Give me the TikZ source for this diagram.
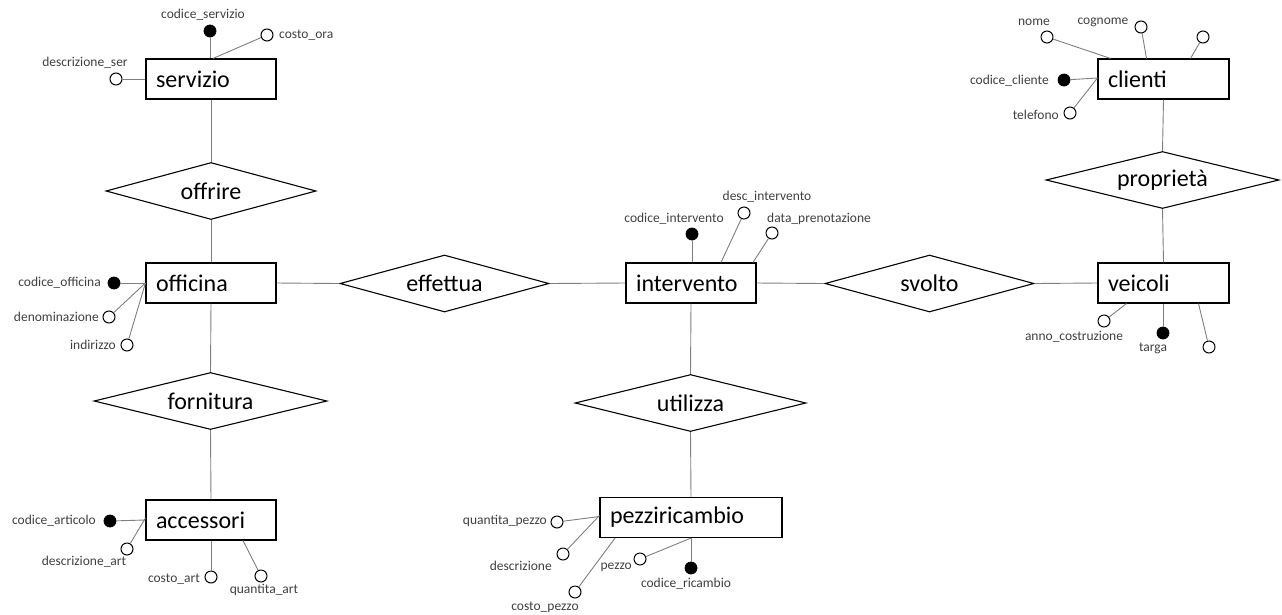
\documentclass[tikz,border=0pt]{standalone}
\usepackage{fontspec}
\setmainfont{Carlito}
\usetikzlibrary{shapes.geometric,calc}
\definecolor{lbl}{HTML}{404040}
\definecolor{lnk}{HTML}{7F7F7F}
\tikzset{
  entity/.style={draw=black, line width=1.1pt, rectangle, minimum width=#1, minimum height=40, inner xsep=10, inner ysep=0,
    text width=#1-20, align=left, font=\fontsize{24}{28}\selectfont, fill=white},
  relation/.style={draw=black, line width=1.1pt, diamond, shape aspect=4, inner sep=0, minimum width=#1, minimum height=57,
    font=\fontsize{24}{28}\selectfont, fill=white},
  keyattr/.style={circle, draw=black, fill=black, line width=0.8pt, minimum size=12, inner sep=0},
  attr/.style={circle, draw=black, fill=white, line width=1pt, minimum size=12, inner sep=0},
  lab/.style={font=\fontsize{13.5}{15}\selectfont, text=lbl, inner sep=0},
  link/.style={draw=lnk, line width=0.9pt},
}
\begin{document}
\begin{tikzpicture}[x=1pt,y=-1pt]
\useasboundingbox (0,0) rectangle (1282,614);

% entities
\node[entity=130] (servizio) at (211,79) {servizio};
\node[entity=130] (officina) at (211,283) {officina};
\node[entity=130] (accessori) at (211,520) {accessori};
\node[entity=130] (intervento) at (691,283) {intervento};
\node[entity=182] (pezzi) at (691,517.5) {pezziricambio};
\node[entity=131] (veicoli) at (1163.5,283) {veicoli};
\node[entity=131] (clienti) at (1163.5,79) {clienti};

% relations
\node[relation=210] (offrire) at (211,191) {offrire};
\node[relation=209] (effettua) at (444.5,283.5) {effettua};
\node[relation=209] (svolto) at (929.5,283.5) {svolto};
\node[relation=233] (proprieta) at (1162.5,180) {proprietà};
\node[relation=233] (fornitura) at (210.5,401) {fornitura};
\node[relation=231] (utilizza) at (690.5,403) {utilizza};

% entity-relation links
\draw[link] (servizio.south) -- (offrire.north);
\draw[link] (offrire.south) -- (officina.north);
\draw[link] (officina.south) -- (fornitura.north);
\draw[link] (fornitura.south) -- (accessori.north);
\draw[link] (officina.east) -- (effettua.west);
\draw[link] (effettua.east) -- (intervento.west);
\draw[link] (intervento.east) -- (svolto.west);
\draw[link] (svolto.east) -- (veicoli.west);
\draw[link] (veicoli.north) -- (proprieta.south);
\draw[link] (proprieta.north) -- (clienti.south);
\draw[link] (intervento.south) -- (utilizza.north);
\draw[link] (utilizza.south) -- (pezzi.north);

% servizio attributes
\node[keyattr] (cs) at (210,31) {};
\node[attr] (co) at (267,35) {};
\node[attr] (ds) at (116,79) {};
\draw[link] (cs) -- (servizio.north -| cs);
\draw[link] (co) -- ([xshift=2]servizio.north);
\draw[link] (ds) -- (servizio.west);
\node[lab] (lcs) at (203,15) {codice\_servizio};
\node[lab, anchor=west] (lco) at (279,35) {costo\_ora};
\node[lab] (lds) at (85,63) {descrizione\_ser};

% officina attributes
\node[keyattr] (cof) at (114,283) {};
\node[attr] (den) at (109,317) {};
\node[attr] (ind) at (127,345) {};
\draw[link] (cof) -- (officina.west);
\draw[link] (den) -- (officina.west);
\draw[link] (ind) -- (officina.west);
\node[lab, anchor=east] (lcof) at (101,283) {codice\_officina};
\node[lab, anchor=east] (lden) at (99,317) {denominazione};
\node[lab, anchor=east] (lind) at (116,345) {indirizzo};

% accessori attributes
\node[keyattr] (car) at (110,521) {};
\node[attr] (dar) at (127,549) {};
\node[attr] (cart) at (211,577) {};
\node[attr] (qar) at (261,576) {};
\draw[link] (car) -- (accessori.west);
\draw[link] (dar) -- ([yshift=2]accessori.west);
\draw[link] (cart) -- (accessori.south);
\draw[link] (qar) -- ([xshift=32]accessori.south);
\node[lab, anchor=east] (lcar) at (96,521) {codice\_articolo};
\node[lab] (ldar) at (84,562) {descrizione\_art};
\node[lab, anchor=east] (lcart) at (200,579) {costo\_art};
\node[lab] (lqar) at (264,590) {quantita\_art};

% intervento attributes
\node[keyattr] (ci) at (692,234) {};
\node[attr] (di) at (744,213) {};
\node[attr] (dp) at (772,233) {};
\draw[link] (ci) -- (intervento.north -| ci);
\draw[link] (di) -- ([xshift=30]intervento.north);
\draw[link] (dp) -- ([xshift=62]intervento.north);
\node[lab] (lci) at (674,219) {codice\_intervento};
\node[lab] (ldi) at (767,197) {desc\_intervento};
\node[lab, anchor=west] (ldp) at (767,219) {data\_prenotazione};

% pezziricambio attributes
\node[attr] (qp) at (557,522) {};
\node[attr] (dsc) at (563,554) {};
\node[attr] (cp) at (575,592) {};
\node[attr] (pz) at (640,559) {};
\node[keyattr] (cr) at (691,568) {};
\draw[link] (qp) -- ([yshift=1]pezzi.west);
\draw[link] (dsc) -- ([yshift=2]pezzi.west);
\draw[link] (cp) -- ([xshift=-76]pezzi.south);
\draw[link] (pz) -- (pezzi.south);
\draw[link] (cr) -- (pezzi.south);
\node[lab, anchor=east] (lqp) at (547,521) {quantita\_pezzo};
\node[lab, anchor=east] (ldsc) at (552,566) {descrizione};
\node[lab] (lcp) at (545,607) {costo\_pezzo};
\node[lab, anchor=east] (lpz) at (632,567) {pezzo};
\node[lab] (lcr) at (686,584) {codice\_ricambio};

% veicoli attributes
\node[attr] (ac) at (1104,321) {};
\node[keyattr] (tg) at (1163,333) {};
\node[attr] (vx) at (1209,347) {};
\draw[link] (ac) -- ([xshift=-37]veicoli.south);
\draw[link] (tg) -- (veicoli.south -| tg);
\draw[link] (vx) -- ([xshift=35]veicoli.south);
\node[lab] (lac) at (1074,337) {anno\_costruzione};
\node[lab] (ltg) at (1153,348) {targa};

% clienti attributes
\node[attr] (nm) at (1047,37) {};
\node[attr] (cg) at (1141,27) {};
\node[attr] (cx) at (1203,37) {};
\node[keyattr] (cc) at (1064,80) {};
\node[attr] (tl) at (1070,113) {};
\draw[link] (nm) -- ([xshift=-53]clienti.north);
\draw[link] (cg) -- ([xshift=-17]clienti.north);
\draw[link] (cx) -- ([xshift=27]clienti.north);
\draw[link] (cc) -- ([yshift=1]clienti.west);
\draw[link] (tl) -- ([yshift=1]clienti.west);
\node[lab] (lnm) at (1034,22) {nome};
\node[lab] (lcg) at (1103,22) {cognome};
\node[lab, anchor=east] (lcc) at (1049,81) {codice\_cliente};
\node[lab, anchor=east] (ltl) at (1059,115) {telefono};
\end{tikzpicture}
\end{document}
